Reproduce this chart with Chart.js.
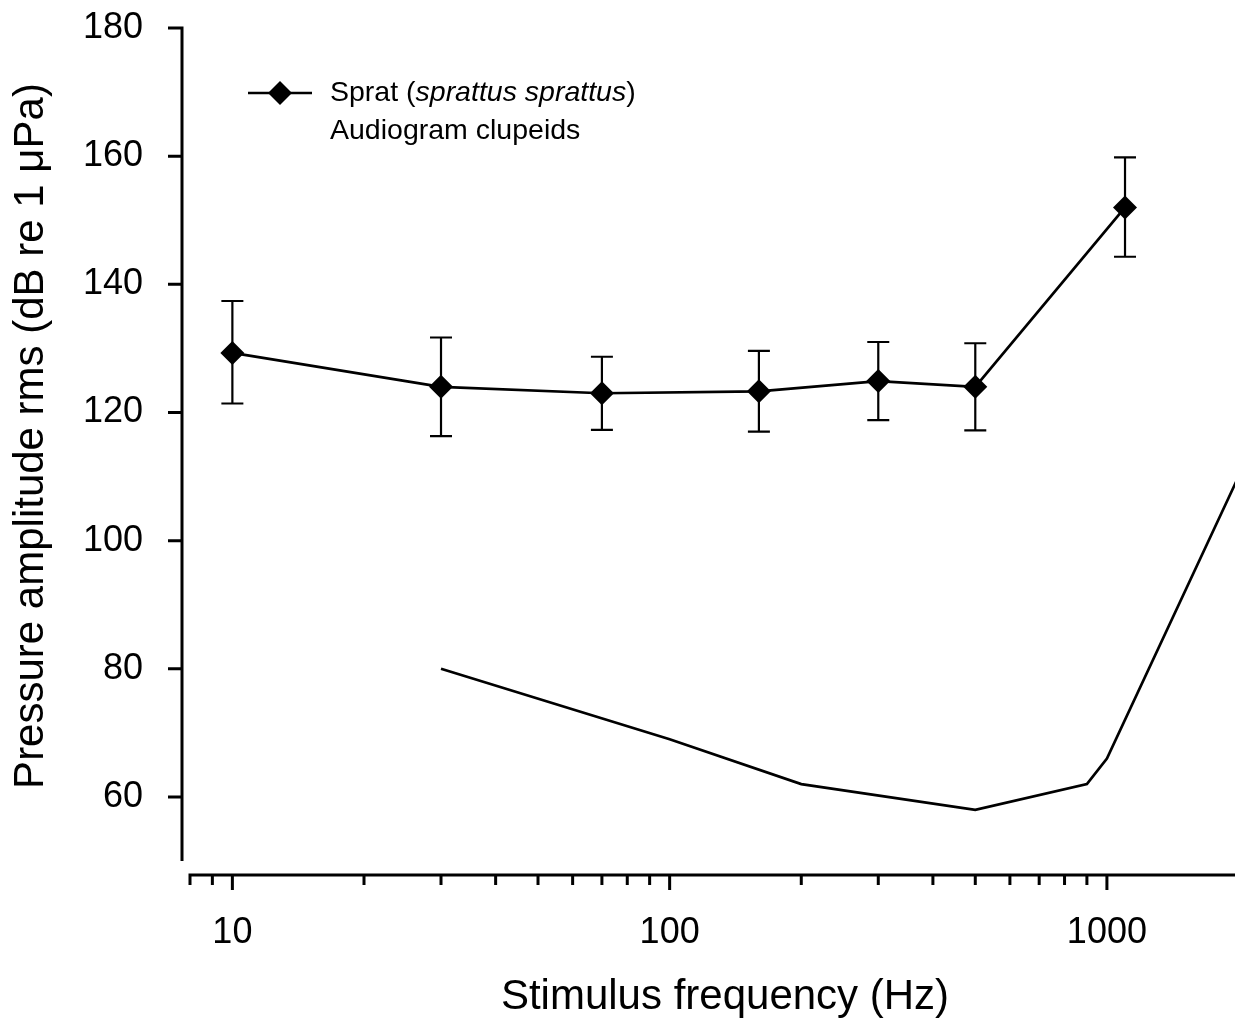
<!DOCTYPE html>
<html>
<head>
<meta charset="utf-8">
<script src="https://cdn.jsdelivr.net/npm/chart.js@4.4.0/dist/chart.umd.min.js"></script>
<style>
    html, body { margin: 0; padding: 0; background: #fff; }
    #chart { display: block; }
</style>
</head>
<body>
<canvas id="chart" width="1235" height="1027"></canvas>
<script>
// Sprat thresholds (mean with error bar ends).
const spratFreq = [10, 30, 70, 160, 300, 500, 1100];
const spratMean = [129.3, 124, 123, 123.3, 124.9, 124, 152];
const spratHigh = [137.4, 131.7, 128.7, 129.6, 131, 130.8, 159.8];
const spratLow = [121.4, 116.3, 117.3, 117, 118.8, 117.2, 144.3];

// Audiogram of clupeids (plain line, no markers).
const clupeidFreq = [30, 100, 200, 500, 900, 1000, 2000];
const clupeidLevel = [80, 69, 62, 58, 62, 66, 110];

// Axis ticks and labels.
const yTickValues = [60, 80, 100, 120, 140, 160, 180];
const xTickLabels = [10, 100, 1000];
const xMajorTicks = [10, 100, 1000];

const xTitle = 'Stimulus frequency (Hz)';
const yTitle = 'Pressure amplitude rms (dB re 1 μPa)';
const legendLabels = ['Sprat (', 'sprattus sprattus', ')'];
const legendLabel2 = 'Audiogram clupeids';

const FONT = 'Arial, "Liberation Sans", sans-serif';

// All log ticks from 8 to the right edge (1..9 times each decade).
function logTicks(min, max) {
    const out = [];
    for (let p = 1; p <= 1000; p *= 10) {
        for (let m = 1; m < 10; m += 1) {
            const v = m * p;
            if (v >= min && v <= max) out.push(v);
        }
    }
    return out;
}

// Stop the scales from asking for extra room round the plot for their labels.
function noPadding(scale) {
    scale.paddingTop = 0;
    scale.paddingBottom = 0;
    scale.paddingLeft = 0;
    scale.paddingRight = 0;
}

const axisMarks = {
    id: 'axisMarks',
    beforeDatasetsDraw(chart) {
        // Error bars go under the markers.
        const { ctx, scales: { x, y } } = chart;
        ctx.save();
        ctx.strokeStyle = '#000';
        ctx.lineWidth = 2.2;
        spratFreq.forEach((f, i) => {
            const px = x.getPixelForValue(f);
            const top = y.getPixelForValue(spratHigh[i]);
            const bot = y.getPixelForValue(spratLow[i]);
            ctx.beginPath();
            ctx.moveTo(px, top);
            ctx.lineTo(px, bot);
            ctx.moveTo(px - 11, top);
            ctx.lineTo(px + 11, top);
            ctx.moveTo(px - 11, bot);
            ctx.lineTo(px + 11, bot);
            ctx.stroke();
        });
        ctx.restore();
    },
    afterDraw(chart) {
        const { ctx, chartArea, scales: { x, y } } = chart;
        ctx.save();
        ctx.strokeStyle = '#000';
        ctx.fillStyle = '#000';
        ctx.lineWidth = 3;

        // Y axis: line set a little left of the plot, ending above the x axis.
        const yAxisX = chartArea.left - 8;
        ctx.beginPath();
        ctx.moveTo(yAxisX, y.getPixelForValue(180) - 1.5);
        ctx.lineTo(yAxisX, y.getPixelForValue(50));
        y.ticks.forEach((t) => {
            const py = y.getPixelForValue(t.value);
            ctx.moveTo(yAxisX - 14, py);
            ctx.lineTo(yAxisX, py);
        });
        ctx.stroke();

        // X axis line with outward ticks, longer at decades.
        const xAxisY = chartArea.bottom;
        ctx.beginPath();
        ctx.moveTo(x.getPixelForValue(x.min) - 1.5, xAxisY);
        ctx.lineTo(chartArea.right, xAxisY);
        x.ticks.forEach((t) => {
            const px = x.getPixelForValue(t.value);
            const len = xMajorTicks.includes(t.value) ? 15 : 10;
            ctx.moveTo(px, xAxisY);
            ctx.lineTo(px, xAxisY + len);
        });
        ctx.stroke();

        // Axis titles.
        ctx.textAlign = 'center';
        ctx.textBaseline = 'middle';
        ctx.font = '42px ' + FONT;
        ctx.fillText(xTitle, 725, 997);
        ctx.save();
        ctx.translate(31, 436);
        ctx.rotate(-Math.PI / 2);
        ctx.fillText(yTitle, 0, 0);
        ctx.restore();

        // Legend.
        const ly = 93;
        ctx.lineWidth = 2.7;
        ctx.beginPath();
        ctx.moveTo(248, ly);
        ctx.lineTo(312, ly);
        ctx.stroke();
        ctx.beginPath();
        ctx.moveTo(280, ly - 12);
        ctx.lineTo(292, ly);
        ctx.lineTo(280, ly + 12);
        ctx.lineTo(268, ly);
        ctx.closePath();
        ctx.fill();

        ctx.textAlign = 'left';
        let tx = 330;
        legendLabels.forEach((part, i) => {
            ctx.font = (i === 1 ? 'italic ' : '') + '28.5px ' + FONT;
            ctx.fillText(part, tx, ly);
            tx += ctx.measureText(part).width;
        });
        ctx.font = '28.5px ' + FONT;
        ctx.fillText(legendLabel2, 330, ly + 38);
        ctx.restore();
    },
};

const ctx = document.getElementById('chart').getContext('2d');
const chart = new Chart(ctx, {
    type: 'line',
    data: {
        datasets: [
            {
                label: 'Sprat (sprattus sprattus)',
                data: spratFreq.map((f, i) => ({ x: f, y: spratMean[i] })),
                borderColor: '#000',
                backgroundColor: '#000',
                borderWidth: 2.7,
                pointStyle: 'rectRot',
                pointRadius: 12,
                pointBorderWidth: 0,
                tension: 0,
            },
            {
                label: legendLabel2,
                data: clupeidFreq.map((f, i) => ({ x: f, y: clupeidLevel[i] })),
                borderColor: '#000',
                borderWidth: 2.7,
                pointRadius: 0,
                tension: 0,
            },
        ],
    },
    options: {
        responsive: false,
        animation: false,
        events: [],
        layout: {
            autoPadding: false,
            padding: { top: 28, right: 0, bottom: 0, left: 0 },
        },
        plugins: {
            legend: { display: false },
            tooltip: { enabled: false },
        },
        scales: {
            x: {
                type: 'logarithmic',
                min: 8,
                max: 1963,
                afterBuildTicks: (scale) => {
                    scale.ticks = logTicks(8, 1963).map(v => ({ value: v }));
                },
                afterFit: (scale) => {
                    scale.height = 152;
                    noPadding(scale);
                },
                grid: { display: false, drawTicks: false },
                border: { display: false },
                ticks: {
                    autoSkip: false,
                    maxRotation: 0,
                    padding: 36,
                    color: '#000',
                    font: { family: FONT, size: 36 },
                    callback: value => (xTickLabels.includes(value) ? String(value) : ''),
                },
            },
            y: {
                min: 47.82,
                max: 180,
                afterBuildTicks: (scale) => {
                    scale.ticks = yTickValues.map(v => ({ value: v }));
                },
                afterFit: (scale) => {
                    scale.width = 190;
                    noPadding(scale);
                },
                grid: { display: false, drawTicks: false },
                border: { display: false },
                ticks: {
                    padding: 47,
                    color: '#000',
                    font: { family: FONT, size: 36 },
                },
            },
        },
    },
    plugins: [axisMarks],
});
</script>
</body>
</html>
